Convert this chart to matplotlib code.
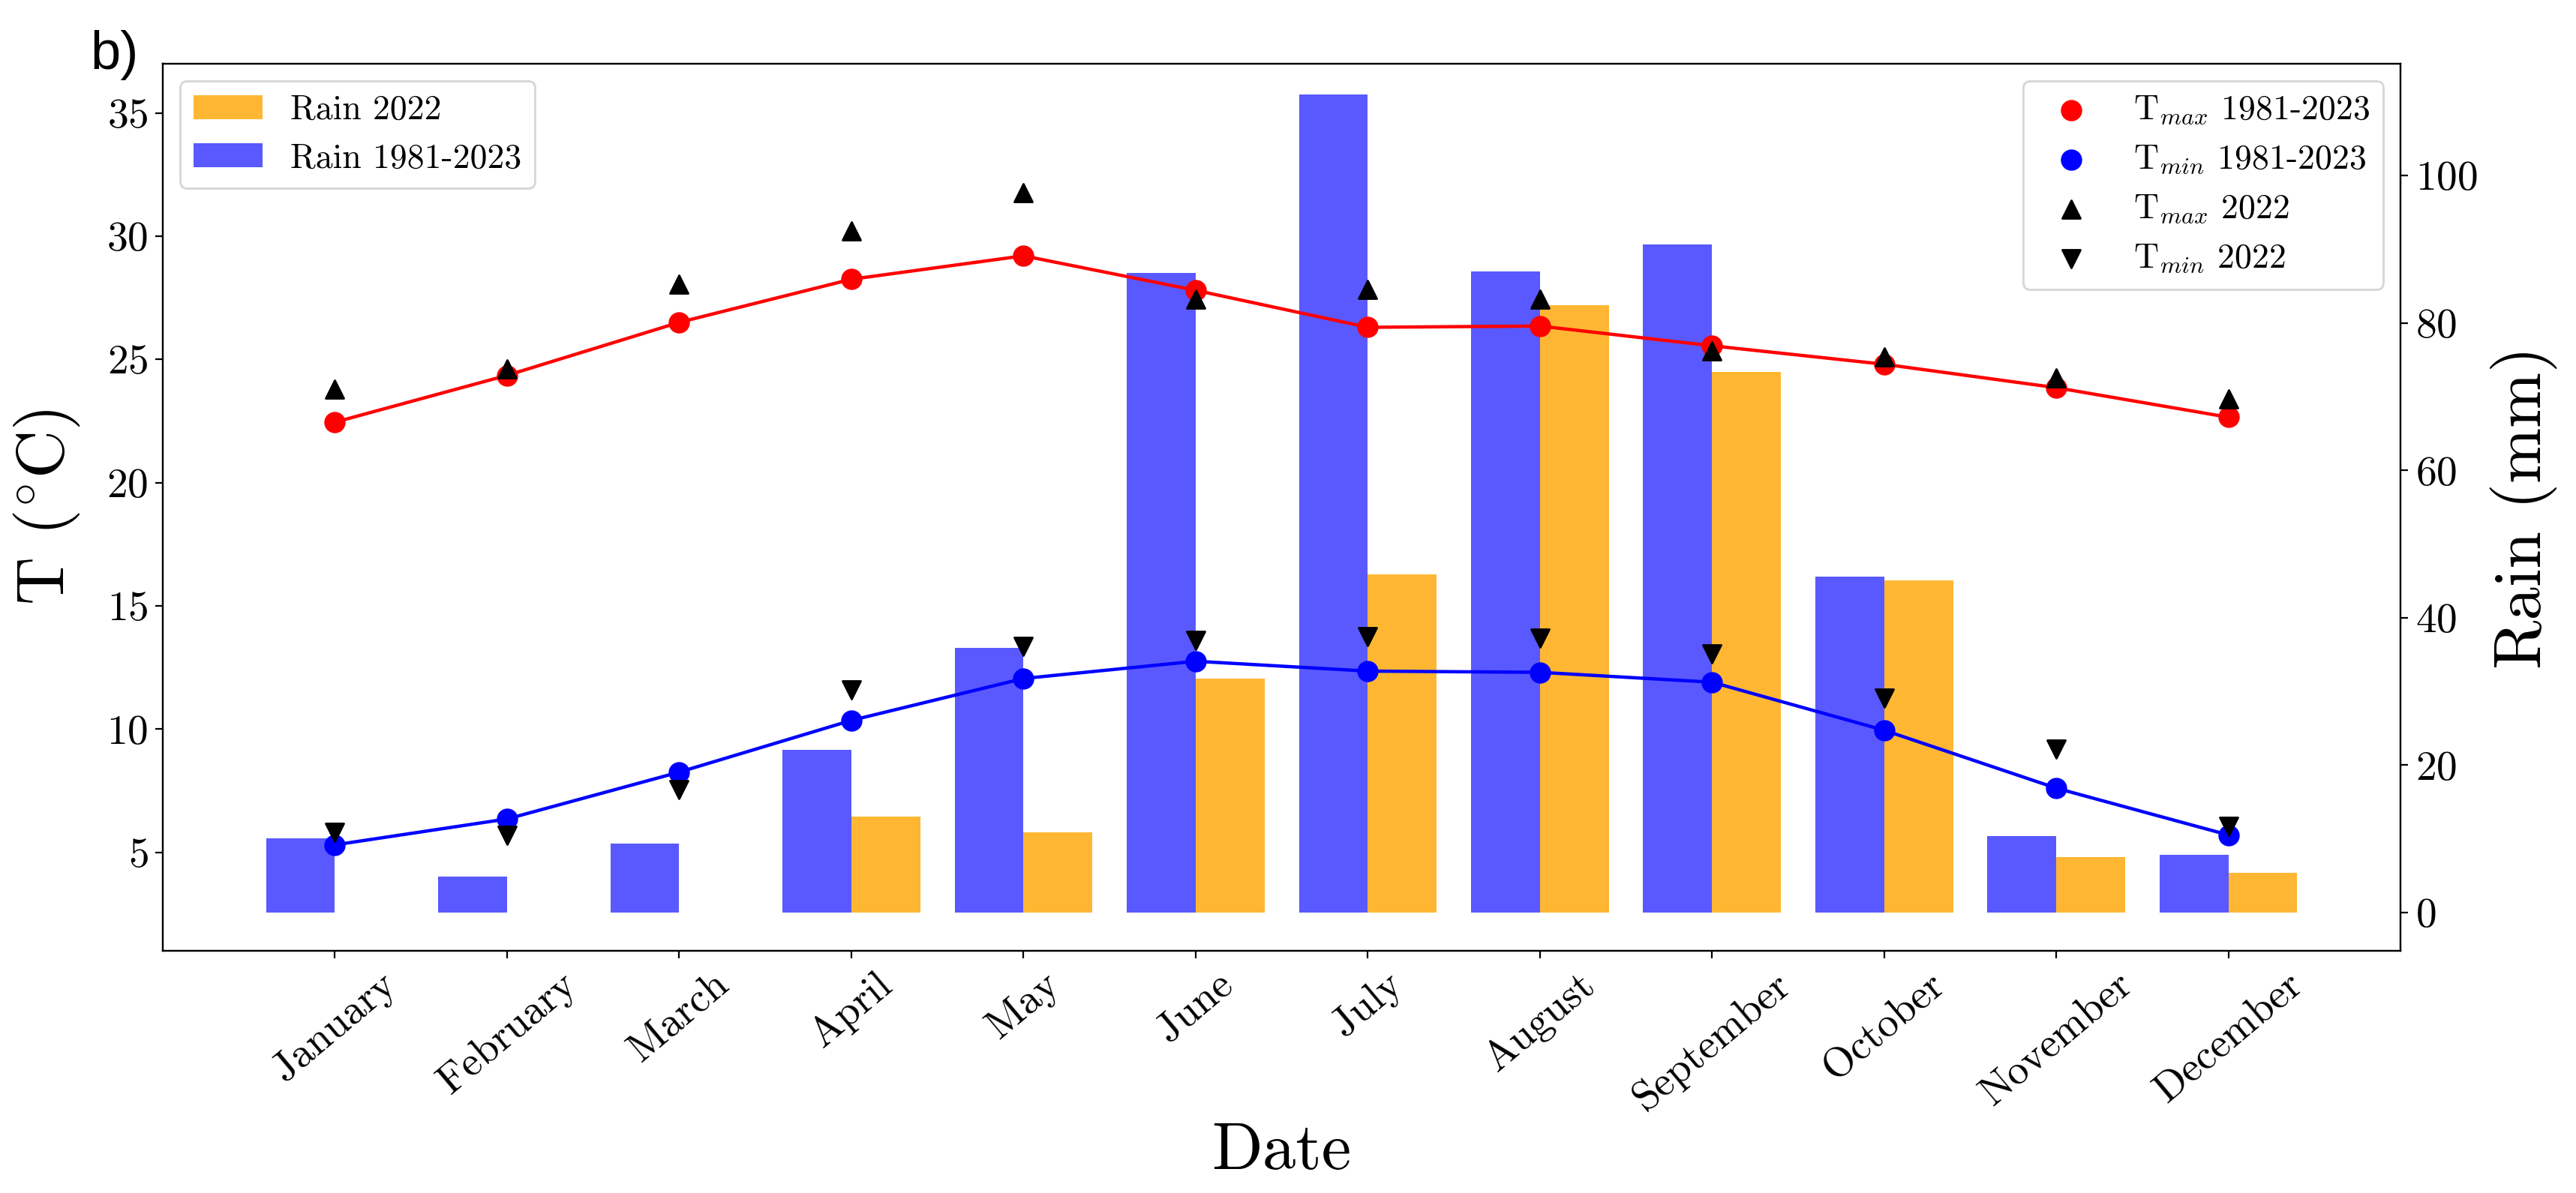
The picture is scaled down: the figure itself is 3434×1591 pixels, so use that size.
import matplotlib
matplotlib.use('Agg')
import matplotlib.pyplot as plt
import numpy as np

plt.rcParams['font.family'] = 'serif'
plt.rcParams['font.serif'] = ['cmr10']
plt.rcParams['mathtext.fontset'] = 'cm'
plt.rcParams['axes.formatter.use_mathtext'] = True

months = ['January', 'February', 'March', 'April', 'May', 'June', 'July',
          'August', 'September', 'October', 'November', 'December']
tmax_clim = [22.45, 24.35, 26.5, 28.25, 29.2, 27.8, 26.3, 26.35, 25.55, 24.8, 23.85, 22.65]
tmin_clim = [5.3, 6.35, 8.25, 10.35, 12.05, 12.75, 12.35, 12.3, 11.9, 9.95, 7.6, 5.7]
tmax_2022 = [23.8, 24.6, 28.05, 30.2, 31.75, 27.45, 27.85, 27.45, 25.35, 25.1, 24.25, 23.4]
tmin_2022 = [5.8, 5.7, 7.55, 11.6, 13.35, 13.6, 13.75, 13.7, 13.05, 11.25, 9.2, 6.05]
rain_clim = [10.1, 4.9, 9.4, 22.1, 35.9, 86.8, 111.0, 87.0, 90.7, 45.6, 10.4, 7.8]
rain_2022 = [0, 0, 0, 13.0, 10.9, 31.7, 45.9, 82.4, 73.4, 45.1, 7.5, 5.4]

x = np.arange(len(months))
w = 0.4

fig = plt.figure(figsize=(17.17, 7.955), dpi=200)
ax = fig.add_axes([0.0632, 0.203, 0.8687, 0.7437])
ax2 = ax.twinx()

# Rain bars on the right axis
ax2.bar(x + w / 2, rain_2022, width=w, color='orange', alpha=0.8, label='Rain 2022')
ax2.bar(x - w / 2, rain_clim, width=w, color='blue', alpha=0.65, label='Rain 1981-2023')
ax2.set_ylim(-5.2, 115.2)
ax2.set_yticks([0, 20, 40, 60, 80, 100])
ax2.set_ylabel('Rain (mm)', fontsize=32, labelpad=6)
ax2.tick_params(axis='y', labelsize=20)
ax2.legend(loc='upper left', fontsize=16.5)

# Temperature on left axis, drawn in front
ax.set_zorder(ax2.get_zorder() + 1)
ax.patch.set_visible(False)

ax.plot(x, tmax_clim, color='red', lw=1.6, zorder=2)
ax.plot(x, tmin_clim, color='blue', lw=1.6, zorder=2)
ax.scatter(x, tmax_clim, color='red', s=85, zorder=2, label=r'T$_{max}$ 1981-2023')
ax.scatter(x, tmin_clim, color='blue', s=85, zorder=2, label=r'T$_{min}$ 1981-2023')
ax.scatter(x, tmax_2022, color='black', marker='^', s=75, zorder=3, label=r'T$_{max}$ 2022')
ax.scatter(x, tmin_2022, color='black', marker='v', s=75, zorder=3, label=r'T$_{min}$ 2022')

ax.set_xlim(-1, 12)
ax.set_ylim(1, 37)
ax.set_yticks([5, 10, 15, 20, 25, 30, 35])
ax.set_xticks(x)
ax.set_xticklabels(months, rotation=40, fontsize=20)
ax.tick_params(axis='y', labelsize=20)
ax.set_ylabel(r'T ($^{\circ}$C)', fontsize=32, labelpad=12)
ax.set_xlabel('Date', fontsize=32, labelpad=2)
ax.legend(loc='upper right', fontsize=16.5)

fig.text(0.035, 0.975, 'b)', fontsize=26, family='Liberation Sans', ha='left', va='top')

fig.savefig('out.png', dpi=200)
